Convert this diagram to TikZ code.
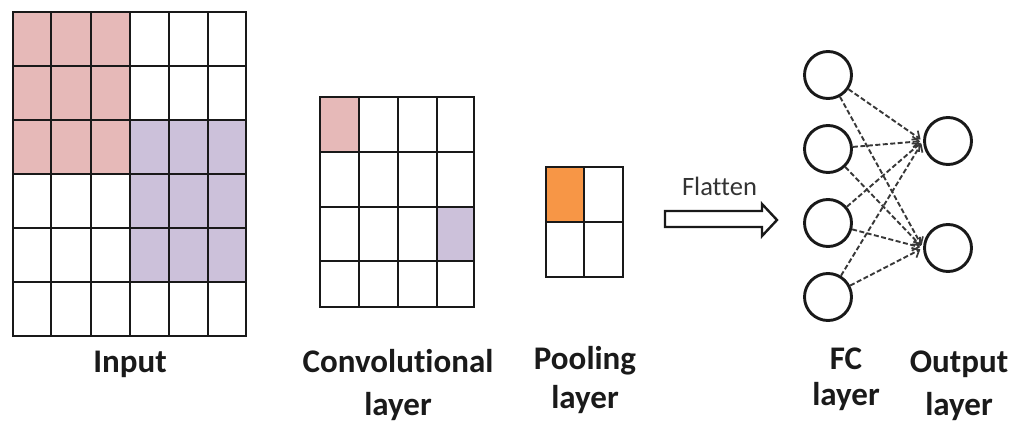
\documentclass[tikz,border=0pt]{standalone}
\usepackage{fontspec}
\setmainfont{Carlito}[Ligatures=NoCommon]
\usetikzlibrary{arrows.meta}
\definecolor{cellpink}{HTML}{E6B9B8}
\definecolor{cellpurple}{HTML}{CCC1DA}
\definecolor{cellorange}{HTML}{F79646}
\definecolor{inkgray}{HTML}{1A1A1A}
\begin{document}
\begin{tikzpicture}[x=1pt,y=-1pt,
  gridline/.style={line width=2.8pt, draw=black!90, line cap=rect},
  neuron/.style={circle, draw=black!90, line width=2.9pt, minimum size=47pt, inner sep=0pt},
  link/.style={dash pattern=on 5pt off 2.5pt, line width=1.9pt, draw=black!78,
               shorten >=3pt, -{Straight Barb[length=6pt,width=11pt,line width=1.7pt]}},
  caption/.style={font=\fontsize{33}{40}\selectfont\bfseries, text=inkgray,
                  align=center, anchor=base, inner sep=0pt},
]
\useasboundingbox (0,0) rectangle (1026,423);

% ---- input feature map 6x6 ----
\fill[cellpink]   (13,12) rectangle (130,174);
\fill[cellpurple] (130,120) rectangle (246,282);
\foreach \x in {13,51,91,130,169,208,246}
  \draw[gridline] (\x,12) -- (\x,336);
\foreach \y in {12,66,120,174,228,282,336}
  \draw[gridline] (13,\y) -- (246,\y);
\node[caption] (lblin) at (130,372) {Input};

% ---- convolutional layer 4x4 ----
\fill[cellpink]   (320,97) rectangle (359,152);
\fill[cellpurple] (437,207) rectangle (474,261);
\foreach \x in {320,359,398,437,474}
  \draw[gridline] (\x,97) -- (\x,307);
\foreach \y in {97,152,207,261,307}
  \draw[gridline] (320,\y) -- (474,\y);
% the base anchor of a two-line caption sits on its last line
\node[caption] (lblconv) at (398,415) {Convolutional\\[3pt]layer};

% ---- pooling layer 2x2 ----
\fill[cellorange] (546,167) rectangle (584,222);
\foreach \x in {546,584,623}
  \draw[gridline] (\x,167) -- (\x,277);
\foreach \y in {167,222,277}
  \draw[gridline] (546,\y) -- (623,\y);
\node[caption] (lblpool) at (585,408) {Pooling\\[-1pt]layer};

% ---- flatten block arrow ----
\draw[line width=2.4pt, draw=black!90, line join=miter]
  (665,211) -- (762,211) -- (762,204) -- (777,220) -- (762,236)
  -- (762,227) -- (665,227) -- cycle;
\node[font=\fontsize{26.5}{30}\selectfont, text=black!80, anchor=base, inner sep=0pt]
  (lblflat) at (719.5,195) {Flatten};

% ---- fully connected and output neurons ----
\node[neuron] (f1) at (828,75) {};
\node[neuron] (f2) at (828,149) {};
\node[neuron] (f3) at (828,223) {};
\node[neuron] (f4) at (828,297) {};
\node[neuron] (o1) at (948,141) {};
\node[neuron] (o2) at (948,248) {};
\foreach \i in {1,2,3,4}
  \foreach \j in {1,2}
    \draw[link] (f\i) -- (o\j.west);
\node[caption] (lblfc) at (846,405) {FC\\[-4pt]layer};
\node[caption] (lblout) at (959,415) {Output\\[3pt]layer};
\end{tikzpicture}
\end{document}
